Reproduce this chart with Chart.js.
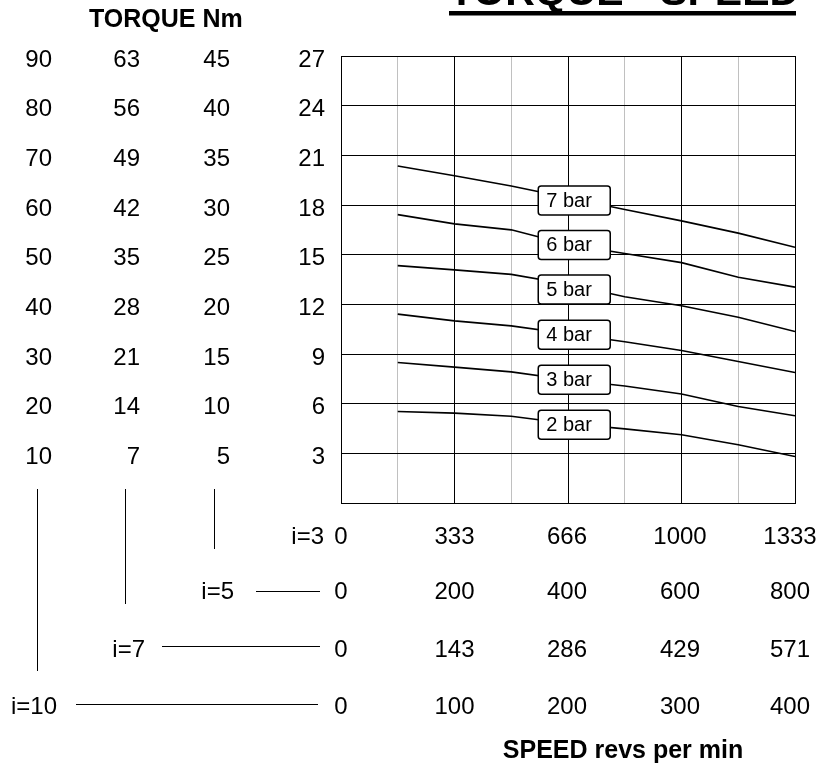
<!DOCTYPE html>
<html>
<head>
<meta charset="utf-8">
<title>Torque - Speed</title>
<script src="https://cdn.jsdelivr.net/npm/chart.js@4/dist/chart.umd.min.js"></script>
<style>
  html, body { margin: 0; padding: 0; background: #fff; }
  #wrap { width: 819px; height: 767px; position: relative; }
</style>
</head>
<body>
<div id="wrap"><canvas id="chart"></canvas></div>
<script>
const FONT = '"Liberation Sans", Arial, sans-serif';

// speed grid for i=3 (rev/min), one line every eighth
const gridSpeeds = [0, 166.67, 333.33, 500, 666.67, 833.33, 1000, 1166.67, 1333.33];
const curveSpeeds = [166.67, 333.33, 500, 666.67, 833.33, 1000, 1166.67, 1333.33];

// torque for i=3 (Nm)
const torqueTicks = [0, 3, 6, 9, 12, 15, 18, 21, 24, 27];

// other ratios, same gridlines
const torqueI5 = ["", "5", "10", "15", "20", "25", "30", "35", "40", "45"];
const torqueI7 = ["", "7", "14", "21", "28", "35", "42", "49", "56", "63"];
const torqueI10 = ["", "10", "20", "30", "40", "50", "60", "70", "80", "90"];

const speedI3 = ["0", "", "333", "", "666", "", "1000", "", "1333"];
const speedI5 = ["0", "", "200", "", "400", "", "600", "", "800"];
const speedI7 = ["0", "", "143", "", "286", "", "429", "", "571"];
const speedI10 = ["0", "", "100", "", "200", "", "300", "", "400"];

const pressureLabels = ["7 bar", "6 bar", "5 bar", "4 bar", "3 bar", "2 bar"];
const bar7 = [20.36, 19.77, 19.15, 18.44, 17.73, 17.04, 16.3, 15.45];
const bar6 = [17.42, 16.86, 16.5, 15.62, 15.07, 14.52, 13.64, 13.04];
const bar5 = [14.34, 14.08, 13.81, 13.21, 12.46, 11.91, 11.22, 10.36];
const bar4 = [11.41, 11.0, 10.7, 10.22, 9.74, 9.21, 8.55, 7.88];
const bar3 = [8.49, 8.21, 7.92, 7.44, 7.07, 6.58, 5.83, 5.27];
const bar2 = [5.53, 5.43, 5.24, 4.8, 4.48, 4.12, 3.52, 2.81];

// where the "n bar" boxes sit
const labelSpeed = 685;
const labelTorque = [18.27, 15.59, 12.89, 10.16, 7.44, 4.72];

const series = [bar7, bar6, bar5, bar4, bar3, bar2];

// small sideways nudge of the speed columns (last one is pulled in to fit)
const colNudge = [0, 0, 0, 0, -1, 0, -1.5, 0, -5];

const extras = {
  id: "extras",
  afterDatasetsDraw(chart) {
    const { ctx, scales } = chart;
    const x = scales.x, y = scales.y;
    ctx.save();
    // pressure boxes
    ctx.font = "20px " + FONT;
    ctx.textBaseline = "middle";
    ctx.textAlign = "left";
    labelTorque.forEach((t, i) => {
      const cx = x.getPixelForValue(labelSpeed);
      const cy = y.getPixelForValue(t);
      const w = 72, h = 29;
      ctx.beginPath();
      ctx.roundRect(cx - w / 2, cy - h / 2, w, h, 3);
      ctx.fillStyle = "#fff";
      ctx.fill();
      ctx.lineWidth = 1.5;
      ctx.strokeStyle = "#000";
      ctx.stroke();
      ctx.fillStyle = "#000";
      ctx.fillText(pressureLabels[i], cx - w / 2 + 8, cy + 1);
    });
    ctx.restore();
  },
  afterDraw(chart) {
    const { ctx, scales } = chart;
    const x = scales.x, y = scales.y;
    ctx.save();
    ctx.fillStyle = "#000";
    ctx.strokeStyle = "#000";

    // title, mostly off the top edge
    ctx.font = "bold 41px " + FONT;
    ctx.textAlign = "left";
    ctx.textBaseline = "alphabetic";
    ctx.fillText("TORQUE - SPEED", 449, 5);
    ctx.fillRect(449, 11, 347, 4.5);

    ctx.font = "bold 25px " + FONT;
    ctx.fillText("TORQUE Nm", 89, 27);
    ctx.textAlign = "center";
    ctx.fillText("SPEED revs per min", 623, 758);

    // torque columns for the other ratios
    ctx.font = "24px " + FONT;
    ctx.textAlign = "right";
    ctx.textBaseline = "middle";
    [[torqueI10, 52], [torqueI7, 140], [torqueI5, 230]].forEach(([labels, right]) => {
      labels.forEach((txt, i) => {
        if (!txt) return;
        ctx.fillText(txt, right, y.getPixelForValue(torqueTicks[i]) + 4);
      });
    });

    // speed rows for each ratio
    const rows = [[speedI3, 537], [speedI5, 592], [speedI7, 650], [speedI10, 707]];
    ctx.textAlign = "center";
    rows.forEach(([labels, rowY]) => {
      labels.forEach((txt, i) => {
        if (!txt) return;
        ctx.fillText(txt, x.getPixelForValue(gridSpeeds[i]) + colNudge[i], rowY);
      });
    });

    ctx.textAlign = "right";
    ctx.fillText("i=3", 324, 537);
    ctx.fillText("i=5", 234, 592);
    ctx.fillText("i=7", 145, 650);
    ctx.fillText("i=10", 57, 707);

    // connectors
    ctx.lineWidth = 1;
    ctx.beginPath();
    ctx.moveTo(37.5, 489); ctx.lineTo(37.5, 671);
    ctx.moveTo(125.5, 489); ctx.lineTo(125.5, 604);
    ctx.moveTo(214.5, 489); ctx.lineTo(214.5, 549);
    ctx.moveTo(256, 591.5); ctx.lineTo(320, 591.5);
    ctx.moveTo(162, 646.5); ctx.lineTo(320, 646.5);
    ctx.moveTo(76, 704.5); ctx.lineTo(318, 704.5);
    ctx.stroke();
    ctx.restore();
  }
};

new Chart(document.getElementById("chart"), {
  type: "line",
  data: {
    datasets: series.map((vals, i) => ({
      label: pressureLabels[i],
      data: vals.map((v, k) => ({ x: curveSpeeds[k], y: v })),
      borderColor: "#000",
      borderWidth: 1.6,
      pointRadius: 0,
      tension: 0,
      fill: false
    }))
  },
  options: {
    responsive: true,
    maintainAspectRatio: false,
    animation: false,
    layout: { padding: { top: 56, right: 24, left: 0, bottom: 0 } },
    plugins: { legend: { display: false }, tooltip: { enabled: false } },
    scales: {
      x: {
        type: "linear",
        min: 0,
        max: 1333.33,
        afterBuildTicks: scale => { scale.ticks = gridSpeeds.map(v => ({ value: v })); },
        afterFit: scale => {
          scale.height = 264;
          scale.paddingLeft = 0;
          scale.paddingRight = 0;
        },
        grid: {
          color: ctx => (ctx.index % 2 === 0 ? "#000" : "#c0c0c0"),
          lineWidth: 1,
          drawTicks: false
        },
        border: { color: "#000", width: 1 },
        ticks: { display: false }
      },
      y: {
        type: "linear",
        min: 0,
        max: 27,
        afterBuildTicks: scale => { scale.ticks = torqueTicks.map(v => ({ value: v })); },
        afterFit: scale => {
          scale.width = 341;
          scale.paddingTop = 0;
          scale.paddingBottom = 0;
        },
        grid: { color: "#000", lineWidth: 1, drawTicks: false },
        border: { color: "#000", width: 1 },
        ticks: {
          autoSkip: false,
          padding: 16,
          labelOffset: 4,
          color: "#000",
          font: { family: FONT, size: 24 },
          callback: v => (v === 0 ? "" : String(v))
        }
      }
    }
  },
  plugins: [extras]
});
</script>
</body>
</html>
